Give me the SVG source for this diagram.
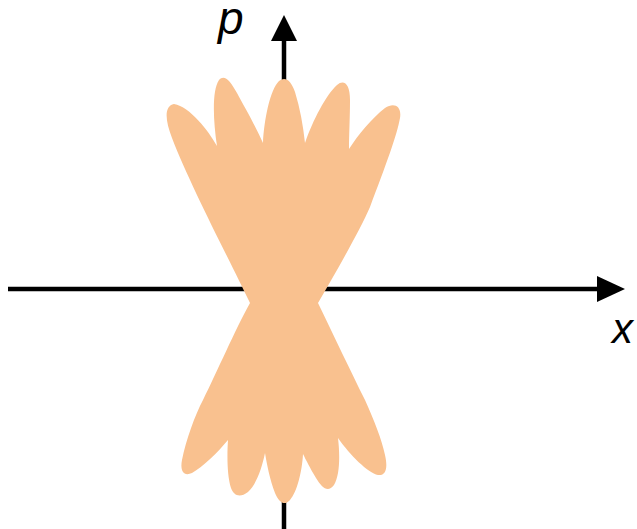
<svg xmlns="http://www.w3.org/2000/svg" width="637" height="529" viewBox="0 0 637 529">
<style>
.ax{stroke:#000;stroke-width:4.5;fill:none}
.ah{fill:#000}
.lbl{font-family:"Liberation Sans",Arial,sans-serif;font-style:italic;fill:#000}
.blob{fill:#F9C18F}
</style>
<rect width="637" height="529" fill="#fff"/>
<g id="axes">
<line class="ax" x1="8" y1="289" x2="599" y2="289"/>
<polygon class="ah" points="597,276 625,289 597,302"/>
<line class="ax" x1="284" y1="529" x2="284" y2="39"/>
<polygon class="ah" points="271,41 284,15 297,41"/>
</g>
<g id="wigner">
<path class="blob" d="M250 303 C232 265 190 185 172 138 C165 120 164 106 174 104 C190 107 208 130 217 146 C213 120 212 90 219 80 C224 74 230 80 237 93 C244 106 255 125 263 143 C264 120 270 90 279 81 C285 76 291 80 295 92 C300 108 303 125 305 143 C313 120 326 95 337 85 C344 79 350 84 350 100 C350 118 349 135 349 149 C358 135 372 118 385 108 C394 102 402 106 400 118 C397 135 386 165 370 207 C360 230 340 265 318 303 C335 338 350 370 365 400 C374 420 382 440 385 455 C388 468 386 476 378 475 C368 473 350 455 338 438 C340 455 340 475 334 485 C328 493 322 488 316 478 C310 468 306 460 303 454 C302 472 297 492 290 500 C285 506 279 503 275 493 C270 480 267 465 265 453 C262 468 256 485 248 492 C240 498 234 496 231 488 C227 475 227 455 228 440 C218 452 203 467 192 473 C183 477 180 470 182 460 C186 440 195 415 203 400 C217 372 235 330 250 303 Z"/>
</g>
<g id="labels">
<text class="lbl" x="218" y="34" font-size="46">p</text>
<text class="lbl" x="612" y="343" font-size="42">x</text>
</g>
</svg>
